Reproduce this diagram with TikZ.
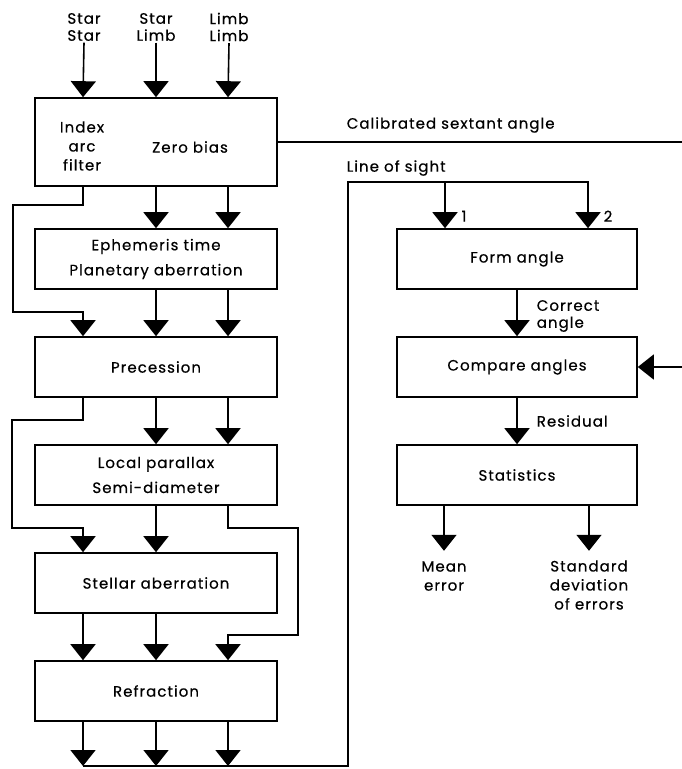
\documentclass[tikz,border=0pt]{standalone}
\usepackage{fontspec}
\setmainfont{Poppins}[LetterSpace=7, FakeBold=0.5]
\usetikzlibrary{arrows.meta,positioning,calc}

\tikzset{
box/.style={draw, minimum width=242pt, minimum height=60pt, align=center, inner sep=0pt},
lbl/.style={align=center, inner sep=1pt},
}

\begin{document}
\begin{tikzpicture}[%
>={Triangle[width=25pt,length=16pt]},
x=1pt, y=-1pt,
node distance=108pt,
on grid,
line width=1.6pt,
font=\fontsize{15}{19}\selectfont
]
\useasboundingbox (0,0) rectangle (682,769);

% columns of the left chain
\coordinate (cA) at (83,0);
\coordinate (cB) at (156,0);
\coordinate (cC) at (228,0);

% left chain
\node[box, minimum height=88pt] (filter) at (156,142) {};
\node[lbl] (index) at (82,146) {Index\\arc\\filter};
\node[lbl] (zero) at (190,147) {Zero bias};
\node[box] (ephem) [below=117pt of filter] {Ephemeris time\\[6pt]Planetary aberration};
\node[box] (prec) [below=of ephem] {Precession};
\node[box] (local) [below=of prec] {Local parallax\\[6pt]Semi-diameter};
\node[box] (stellar) [below=of local] {Stellar aberration};
\node[box] (refr) [below=of stellar] {Refraction};

% right chain
\node[box, minimum width=240pt] (form) [right=361pt of ephem] {Form angle};
\node[box, minimum width=240pt] (compare) [below=of form] {Compare angles};
\node[box, minimum width=240pt] (stats) [below=of compare] {Statistics};

% inputs
\node[lbl] (ss) at (84,27) {Star\\[-2pt]Star};
\node[lbl] (sl) at (156,27) {Star\\[-2pt]Limb};
\node[lbl] (ll) at (229,27) {Limb\\[-2pt]Limb};
\foreach \n/\c in {ss/cA,sl/cB,ll/cC}
  \draw[->] (\n.south) -- (\c |- filter.north);

% straight links
\foreach \c in {cB,cC} {
  \draw[->] (\c |- filter.south) -- (\c |- ephem.north);
  \draw[->] (\c |- ephem.south) -- (\c |- prec.north);
  \draw[->] (\c |- prec.south) -- (\c |- local.north);
}
\draw[->] (cB |- local.south) -- (cB |- stellar.north);
\foreach \c in {cA,cB}
  \draw[->] (\c |- stellar.south) -- (\c |- refr.north);

% bypasses
\draw[->] (cA |- filter.south) |- (13,205) -- (13,312) -| (cA |- prec.north);
\draw[->] (cA |- prec.south) |- (12,420) -- (12,528) -| (cA |- stellar.north);
\draw[->] (cC |- local.south) |- (298,528) -- (298,635) -| (cC |- refr.north);

% calibrated output
\coordinate (calout) at (682,142);
\draw (filter.east) -- (calout);
\node[lbl, anchor=west] (cal) at (345,125) {Calibrated sextant angle};

% line of sight
\coordinate (bus) at (348,766);
\coordinate (sight) at (348,182);
\coordinate (in1) at ([xshift=-72pt]form.north);
\coordinate (in2) at ([xshift=71pt]form.north);
\foreach \c in {cA,cB,cC}
  \draw[->] (\c |- refr.south) -- (\c |- bus);
\draw[->] (cA |- bus) -- (bus) -- (sight) -| (in2);
\draw[->] (in1 |- sight) -- (in1);
\node[lbl, anchor=west] (los) at (345,168) {Line of sight};
\node[lbl] (one) at ([xshift=19pt,yshift=12pt]in1) {1};
\node[lbl] (two) at ([xshift=20pt,yshift=12pt]in2) {2};

% comparison
\draw[->] (form) -- (compare);
\node[lbl, anchor=west, align=left] (corr) at (535,316) {Correct\\[-2pt]angle};
\coordinate (ext) at (682,367);
\draw[->] (ext) -- (compare.east);
\draw[->] (compare) -- (stats);
\node[lbl, anchor=west] (resid) at (535,421) {Residual};

% outputs
\node[lbl] (mean) at (444,576) {Mean\\error};
\node[lbl] (stddev) at (589,585) {Standard\\deviation\\of errors};
\draw[->] (mean |- stats.south) -- ++(0,45);
\draw[->] (stddev |- stats.south) -- ++(0,45);

\end{tikzpicture}
\end{document}
